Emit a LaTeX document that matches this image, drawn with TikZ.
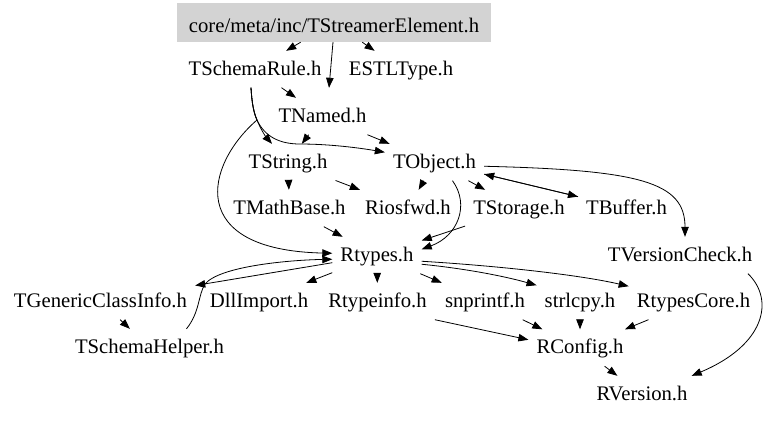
\documentclass[tikz,border=0pt]{standalone}
\usepackage{fontspec}
\setmainfont{Liberation Serif}
\usetikzlibrary{arrows.meta}
\definecolor{rootgray}{HTML}{D3D3D3}
\begin{document}
\begin{tikzpicture}[x=1bp,y=-1bp,
  lbl/.style={anchor=base, inner xsep=8bp, inner ysep=0bp, text height=24bp, text depth=12.5bp,
    font=\fontsize{20.7bp}{24bp}\selectfont},
  rootbox/.style={anchor=base, fill=rootgray, inner xsep=0bp, inner ysep=0bp, text height=20bp, text depth=1bp,
    minimum height=39bp, minimum width=314bp, font=\fontsize{20.7bp}{24bp}\selectfont},
  e/.style={draw=black, line width=0.8bp, -{Triangle[length=10bp,width=7.5bp]}}]
\useasboundingbox (0,0) rectangle (768,420);

\node[rootbox] (root) at (334,32) {core/meta/inc/TStreamerElement.h};
\node[lbl] (tschemarule) at (255,75) {TSchemaRule.h};
\node[lbl] (estltype) at (401,75) {ESTLType.h};
\node[lbl] (tnamed) at (322.5,122) {TNamed.h};
\node[lbl] (tstring) at (288,168) {TString.h};
\node[lbl] (tobject) at (434.5,168) {TObject.h};
\node[lbl] (tmathbase) at (289.5,214) {TMathBase.h};
\node[lbl] (riosfwd) at (408,214) {Riosfwd.h};
\node[lbl] (tstorage) at (519,214) {TStorage.h};
\node[lbl] (tbuffer) at (626.5,214) {TBuffer.h};
\node[lbl] (rtypes) at (377,261) {Rtypes.h};
\node[lbl] (tversioncheck) at (680,261) {TVersionCheck.h};
\node[lbl] (tgenericclassinfo) at (100.5,307) {TGenericClassInfo.h};
\node[lbl] (dllimport) at (259,307) {DllImport.h};
\node[lbl] (rtypeinfo) at (377.5,307) {Rtypeinfo.h};
\node[lbl] (snprintf) at (485,307) {snprintf.h};
\node[lbl] (strlcpy) at (580,307) {strlcpy.h};
\node[lbl] (rtypescore) at (693.5,307) {RtypesCore.h};
\node[lbl] (tschemahelper) at (149.5,353) {TSchemaHelper.h};
\node[lbl] (rconfig) at (580,353.5) {RConfig.h};
\node[lbl] (rversion) at (642,400) {RVersion.h};

% root
\draw[e] (root) -- (tschemarule);
\draw[e] (root) -- (estltype);
\draw[e] ([xshift=-1bp]root.south) -- ([xshift=6.5bp,yshift=10bp]tnamed.north);
% TSchemaRule
\draw[e] (tschemarule) -- (tnamed);
\draw[e] ([xshift=-4bp]tschemarule.south) .. controls (252,105) and (254,113) .. (257,120)
  .. controls (261,130) and (266,137) .. ([xshift=-16bp]tstring.north);
\draw[e] ([xshift=-4bp]tschemarule.south) .. controls (252,105) and (254,113) .. (257,120)
  .. controls (265,137) and (280,144) .. (300,144)
  .. controls (330,144) and (360,148) .. ([yshift=10bp]tobject.west);
\draw[e] ([xshift=-4bp]tschemarule.south) .. controls (252,105) and (254,113) .. (257,120)
  .. controls (205,165) and (185,250) .. ([yshift=2bp]rtypes.west);
% TNamed
\draw[e] (tnamed) -- (tstring);
\draw[e] (tnamed) -- (tobject);
% TString
\draw[e] (tstring) -- (tmathbase);
\draw[e] (tstring) -- (riosfwd);
% TObject
\draw[e] (tobject) -- (riosfwd);
\draw[e] (tobject) -- (tstorage);
\draw[e] (tobject) -- (tbuffer);
\draw[e] (tbuffer) -- (tobject);
\draw[e] ([yshift=-4bp]tobject.east) .. controls (640,170) and (685,182) .. ([xshift=5bp]tversioncheck.north);
\draw[e] ([xshift=18bp]tobject.south) .. controls (470,205) and (458,236) .. ([yshift=6bp]rtypes.east);
% second row to Rtypes
\draw[e] (tstorage) -- (rtypes);
\draw[e] (tmathbase) -- (rtypes);
% Rtypes
\draw[e] (rtypes) -- (tgenericclassinfo);
\draw[e] (rtypes) -- (dllimport);
\draw[e] (rtypes) -- (rtypeinfo);
\draw[e] (rtypes) -- (snprintf);
\draw[e] ([yshift=-9bp]rtypes.east) .. controls (460,268) and (500,275) .. ([yshift=16bp]strlcpy.west);
\draw[e] ([yshift=-6bp]rtypes.east) .. controls (500,266) and (580,275) .. ([yshift=15bp]rtypescore.west);
% TSchemaHelper
\draw[e] (tgenericclassinfo) -- (tschemahelper);
\draw[e] ([xshift=37bp]tschemahelper.north) .. controls (200,312) and (198,295) .. (205,284)
  .. controls (220,266) and (290,260) .. ([yshift=-4bp]rtypes.west);
% RConfig
\draw[e] (rtypeinfo.south east) -- ([yshift=8bp]rconfig.west);
\draw[e] (snprintf) -- (rconfig);
\draw[e] (strlcpy) -- (rconfig);
\draw[e] (rtypescore) -- (rconfig);
\draw[e] (rconfig) -- (rversion);
\draw[e] ([xshift=68bp]tversioncheck.south) .. controls (775,300) and (765,345) .. ([xshift=-4bp]rversion.north east);
\end{tikzpicture}
\end{document}
